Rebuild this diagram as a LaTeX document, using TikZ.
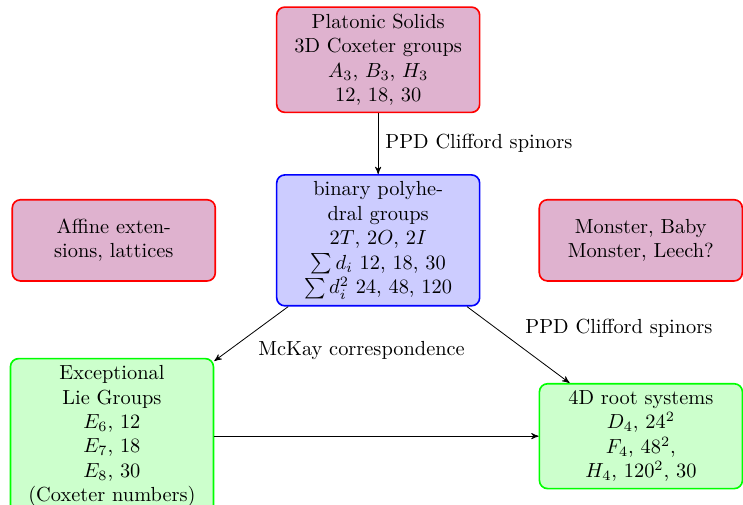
\documentclass[tikz,border=0pt]{standalone}
\usepackage{amsfonts,amssymb,amsmath}
\usetikzlibrary{positioning,arrows}
\definecolor{solidpink}{RGB}{223,178,207}
\tikzset{
  ->, >=stealth', semithick,
  box/.style={rectangle, rounded corners, thick, align=center,
    minimum width=3.5cm, minimum height=1.4cm},
  redbox/.style={box, draw=red, fill=solidpink},
  bluebox/.style={box, draw=blue, fill=blue!20},
  greenbox/.style={box, draw=green, fill=green!20}
  }

\begin{document}
\begin{tikzpicture}

    \useasboundingbox (0,0) rectangle (12.81,-8.69);

    \node [redbox] at (6.52,-1.03) (solids) {Platonic Solids\\3D Coxeter groups\\$A_3$, $B_3$, $H_3$\\12, 18, 30};
    \node [bluebox, below=1.05cm of solids] (binary) {binary polyhe-\\dral groups\\$2T$, $2O$, $2I$\\$\sum d_i$ 12, 18, 30\\$\sum d_i^2$ 24, 48, 120};
    \node [redbox, left=1.03cm of binary] (affine) {Affine exten-\\sions, lattices};
    \node [redbox, right=1cm of binary] (monster) {Monster, Baby\\Monster, Leech?};
    \node [greenbox] at (1.93,-7.52) (lie) {Exceptional\\Lie Groups\\$E_6$, 12\\$E_7$, 18\\$E_8$, 30\\(Coxeter numbers)};
    \node [greenbox] at (11.05,-7.52) (roots) {4D root systems\\$D_4$, $24^2$\\$F_4$, $48^2$,\\$H_4$, $120^2$, 30};
    \draw (solids) edge[right] node{PPD Clifford spinors} (binary);
    \draw (binary) edge[below right] node{McKay correspondence} (lie);
    \draw (binary) edge[above right] node{PPD Clifford spinors} (roots);
    \draw (lie) edge (roots);

\end{tikzpicture}
\end{document}
